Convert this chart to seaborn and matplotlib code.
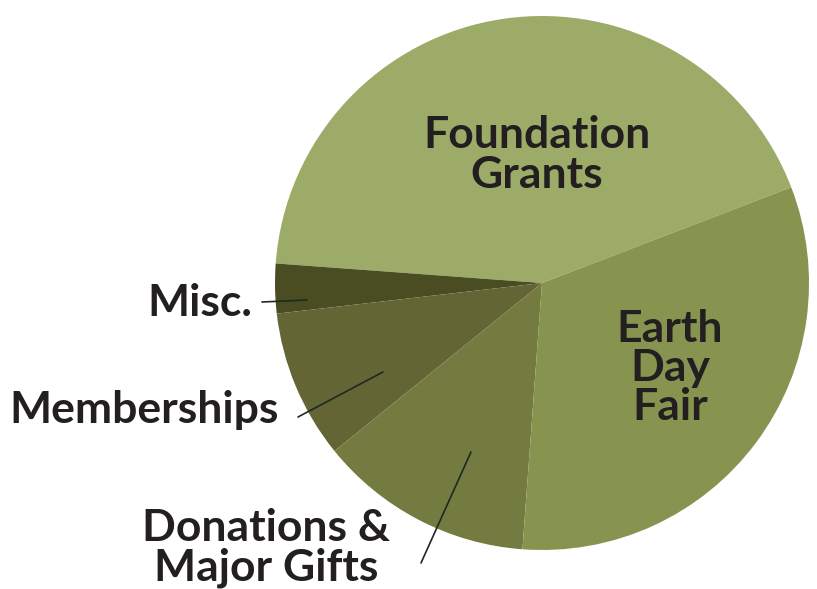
import matplotlib
matplotlib.use("Agg")
import matplotlib.pyplot as plt
import seaborn as sns

sns.set_style("white")
plt.rcParams['font.family'] = ['Lato', 'DejaVu Sans']

# slices, counter-clockwise from the Foundation Grants edge
labels = ["Foundation Grants", "Misc.", "Memberships", "Donations & Major Gifts", "Earth Day Fair"]
values = [43, 3, 9, 13, 32]
colors = ["#9cac68", "#4a4c22", "#636634", "#737b40", "#879450"]

W, H = 817, 589
fig = plt.figure(figsize=(W / 100, H / 100), dpi=100)
ax = fig.add_axes([0, 0, 1, 1])
ax.set_xlim(0, W)
ax.set_ylim(0, H)
ax.set_aspect("equal")
ax.axis("off")

ax.pie(values, colors=colors, startangle=21, counterclock=True,
       center=(542, H - 283), radius=267, wedgeprops=dict(linewidth=0))
ax.set_xlim(0, W)
ax.set_ylim(0, H)

txt = dict(fontsize=32, fontweight="bold", color="#231f20", linespacing=0.98)
ax.text(537, H - 155, "Foundation\nGrants", ha="center", va="center", **txt)
ax.text(670, H - 368, "Earth\nDay\nFair", ha="center", va="center", **txt)
ax.text(252, H - 303, "Misc.", ha="right", va="center", **txt)
ax.text(279, H - 410, "Memberships", ha="right", va="center", **txt)
ax.text(266, H - 548, "Donations &\nMajor Gifts", ha="center", va="center", **txt)

line = dict(color="#1c2a22", linewidth=1.2)
ax.plot([262, 307], [H - 302, H - 300], **line)
ax.plot([298, 383], [H - 417, H - 372], **line)
ax.plot([421, 471], [H - 563, H - 452], **line)

fig.savefig("out.png", dpi=100, facecolor="white")
